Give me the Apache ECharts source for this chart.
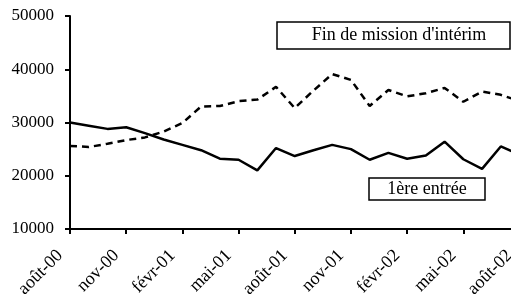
<!DOCTYPE html>
<html>
<head>
<meta charset="utf-8">
<script src="https://cdn.jsdelivr.net/npm/echarts@6/dist/echarts.min.js"></script>
<style>
  html, body { margin: 0; padding: 0; background: #fff; }
  #chart { width: 511px; height: 298px; }
</style>
</head>
<body>
<div id="chart"></div>
<script>
// mois, août 2000 -> août 2002
var months = [
  "août-00", "sept-00", "oct-00", "nov-00", "déc-00", "janv-01", "févr-01", "mars-01",
  "avr-01", "mai-01", "juin-01", "juil-01", "août-01", "sept-01", "oct-01", "nov-01",
  "déc-01", "janv-02", "févr-02", "mars-02", "avr-02", "mai-02", "juin-02", "juil-02", "août-02"
];
var finMission = [
  25600, 25400, 26000, 26700, 27200, 28300, 29900, 33000,
  33100, 34000, 34300, 36700, 32700, 36000, 39100, 38000,
  33100, 36100, 34900, 35500, 36500, 33900, 35800, 35200, 34000
];
var premiereEntree = [
  30000, 29400, 28800, 29100, 28000, 26800, 25800, 24800,
  23200, 23000, 21000, 25200, 23700, 24800, 25800, 25000,
  23000, 24300, 23200, 23800, 26400, 23100, 21300, 25500, 24000
];
var yTicks = { min: 10000, max: 50000, step: 10000 };

var serif = "Liberation Serif";
var chart = echarts.init(document.getElementById("chart"));
chart.setOption({
  animation: false,
  backgroundColor: "#fff",
  // le graphique est coupé à droite : août-02 tombe juste hors du cadre
  grid: { left: 70, top: 16, bottom: 69, width: 449.5, outerBoundsMode: "none", containLabel: false },
  xAxis: {
    type: "category",
    data: months,
    boundaryGap: false,
    axisLine: { lineStyle: { color: "#000", width: 2 } },
    axisTick: { alignWithLabel: true, interval: 2, length: 5, lineStyle: { color: "#000", width: 2 } },
    axisLabel: {
      interval: 2,
      rotate: 45,
      margin: 14,
      padding: [0, 14, 0, 0],
      color: "#000",
      fontFamily: serif,
      fontSize: 18
    },
    splitLine: { show: false }
  },
  yAxis: {
    type: "value",
    min: yTicks.min,
    max: yTicks.max,
    interval: yTicks.step,
    axisLine: { show: true, lineStyle: { color: "#000", width: 2 } },
    axisTick: { show: true, length: 5, lineStyle: { color: "#000", width: 2 } },
    axisLabel: {
      color: "#000", fontFamily: serif, fontSize: 17, margin: 16,
      formatter: function (v) { return String(v); }
    },
    splitLine: { show: false }
  },
  series: [
    {
      name: "Fin de mission d'intérim",
      type: "line",
      data: finMission,
      symbol: "none",
      lineStyle: { color: "#000", width: 2.5, type: [7, 5] }
    },
    {
      name: "1ère entrée",
      type: "line",
      data: premiereEntree,
      symbol: "none",
      lineStyle: { color: "#000", width: 2.5 }
    }
  ],
  graphic: [
    {
      type: "group",
      children: [
        { type: "rect", shape: { x: 277, y: 22, width: 233, height: 27 },
          style: { fill: "#fff", stroke: "#000", lineWidth: 1.5 } },
        { type: "text", x: 399, y: 35,
          style: { text: "Fin de mission d'intérim", font: "18px " + serif, fill: "#000", align: "center", verticalAlign: "middle" } }
      ]
    },
    {
      type: "group",
      children: [
        { type: "rect", shape: { x: 369, y: 178, width: 116, height: 22 },
          style: { fill: "#fff", stroke: "#000", lineWidth: 1.5 } },
        { type: "text", x: 427, y: 189,
          style: { text: "1ère entrée", font: "18px " + serif, fill: "#000", align: "center", verticalAlign: "middle" } }
      ]
    }
  ]
});
</script>
</body>
</html>
